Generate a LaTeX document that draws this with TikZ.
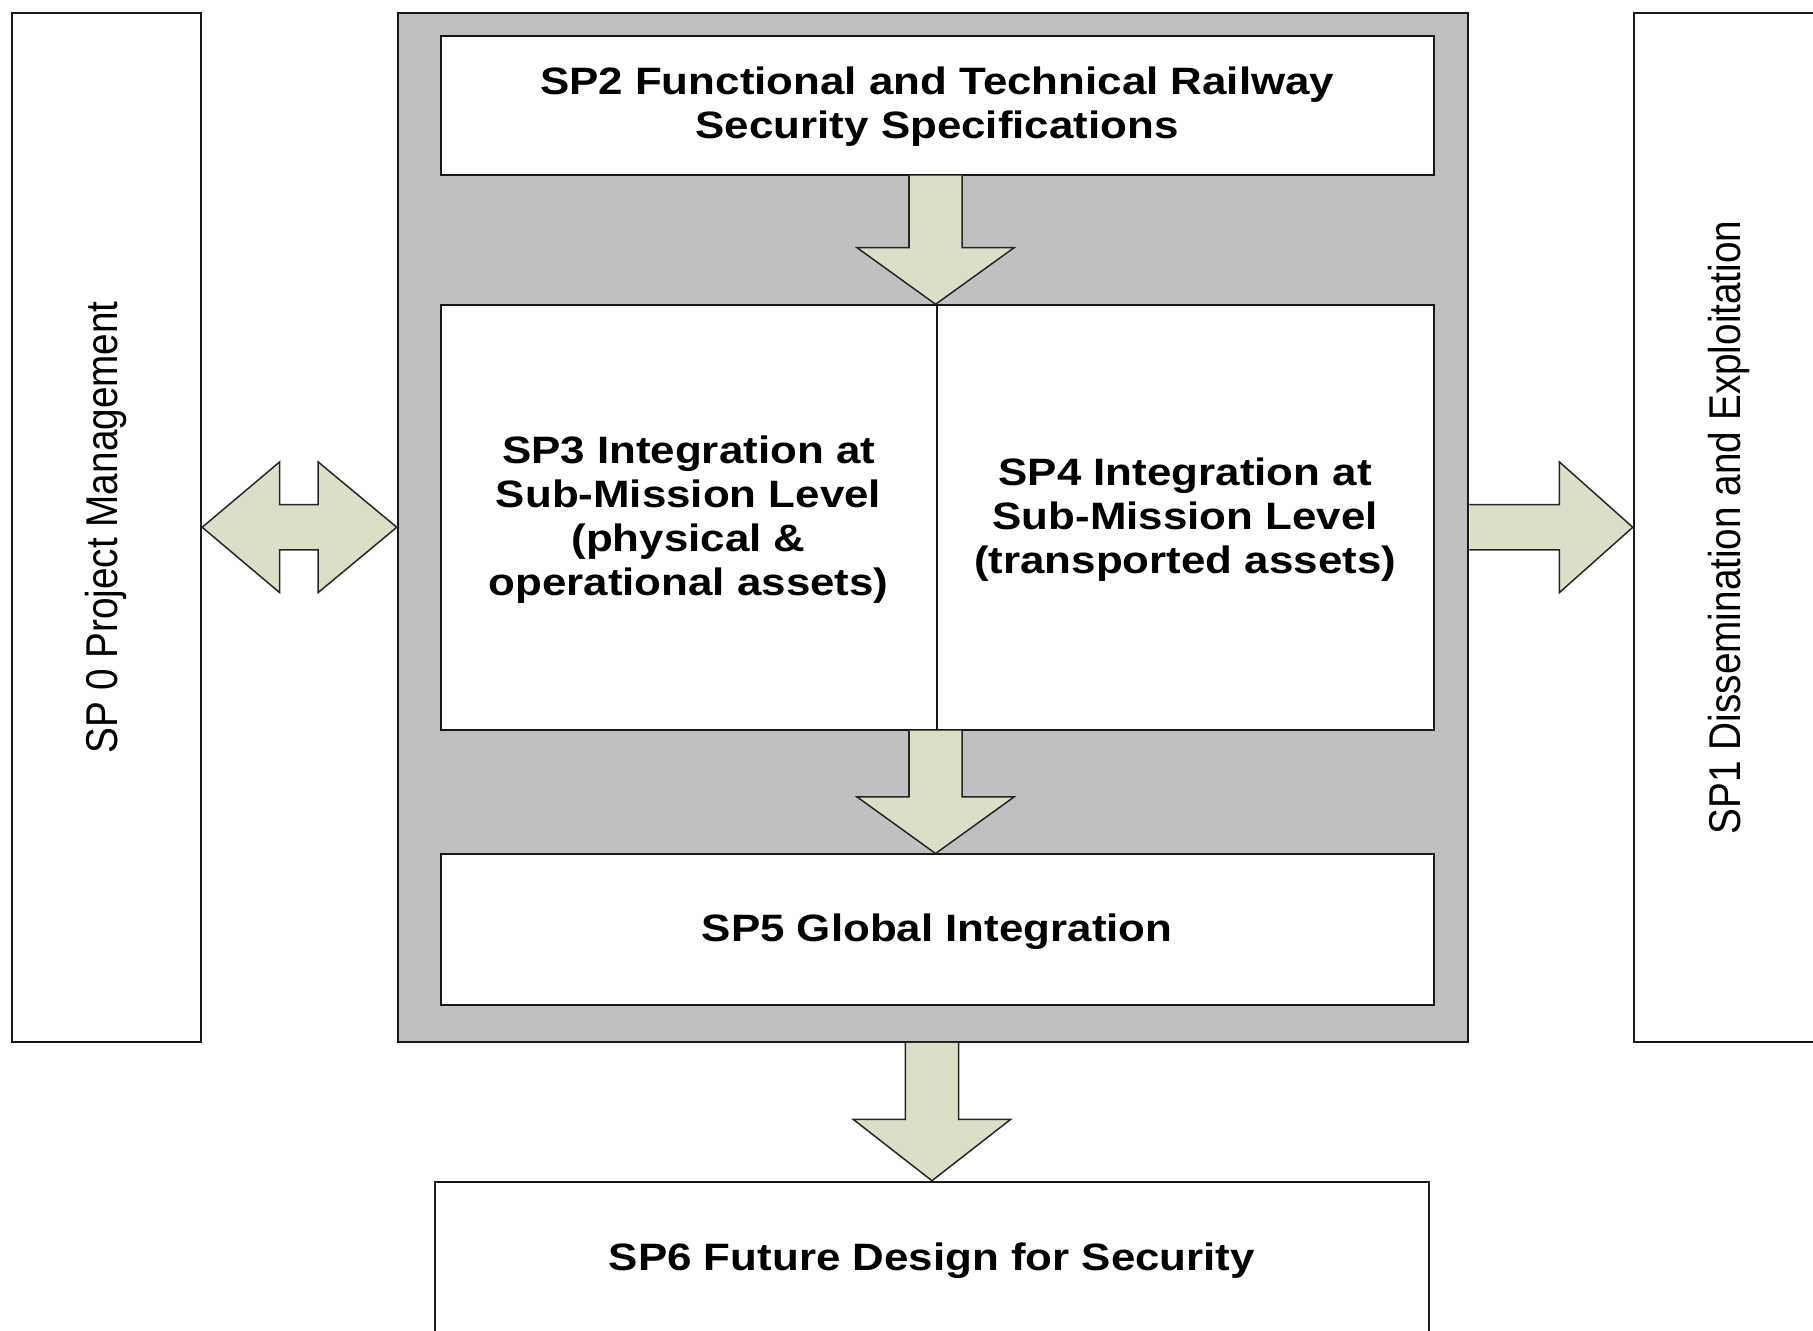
\documentclass[tikz,border=0pt]{standalone}
\usepackage{fontspec}
\setmainfont{Liberation Sans}
\usetikzlibrary{calc}
\definecolor{framegray}{HTML}{C0C0C0}
\definecolor{arrowfill}{HTML}{DADFC8}
\definecolor{arrowline}{HTML}{262626}
\newcommand\hlbl[1]{\raisebox{-2.5pt}[\height][\depth]{\scalebox{1.15}[1]{\fontsize{33}{38}\selectfont\bfseries\begin{tabular}{@{}c@{}}#1\end{tabular}}}}
\newcommand\vlbl[1]{\rotatebox{90}{\scalebox{1}[1.15]{\fontsize{33.5}{38}\selectfont #1}}}
% vertical block arrow: #1 shaft-top coordinate, #2 tip coordinate, #3 head length
\newcommand\downblock[3]{%
  \fill[arrowfill] ($(#1)+(-23,0)$) -- ($(#2)+(-23,-#3)$) -- ($(#2)+(-68,-#3)$) -- (#2)
     -- ($(#2)+(68,-#3)$) -- ($(#2)+(23,-#3)$) -- ($(#1)+(23,0)$) -- cycle;
  \draw[blockline] ($(#1)+(-23,0)$) -- ($(#2)+(-23,-#3)$) -- ($(#2)+(-68,-#3)$) -- (#2)
     -- ($(#2)+(68,-#3)$) -- ($(#2)+(23,-#3)$) -- ($(#1)+(23,0)$);}
\begin{document}
\begin{tikzpicture}[x=1pt,y=-1pt,
  box/.style={draw=black!90, line width=1.7pt, fill=white, inner sep=0pt},
  framebox/.style={draw=black!90, line width=1.7pt, fill=framegray, inner sep=0pt},
  blockline/.style={draw=arrowline, line width=1.3pt, line join=miter}]
\useasboundingbox (0,0) rectangle (1568,1151);
\clip (0,0) rectangle (1568,1151);

% outer boxes
\node[framebox, minimum width=926pt, minimum height=890pt] (frame) at (807,456) {};
\node[box, minimum width=164pt, minimum height=890pt] (sp0) at (92,456) {\vlbl{SP 0 Project Management}};
\node[box, minimum width=164pt, minimum height=890pt] (sp1) at (1495,456) {\vlbl{SP1 Dissemination and Exploitation}};

% inner boxes
\node[box, minimum width=859pt, minimum height=120pt] (sp2) at (810.5,91)
  {\hlbl{SP2 Functional and Technical Railway\\Security Specifications}};
\node[box, minimum width=429pt, minimum height=367pt] (sp3) at (595.5,447.5)
  {\hlbl{SP3 Integration at\\Sub-Mission Level\\(physical \&\\operational assets)}};
\node[box, minimum width=430pt, minimum height=367pt] (sp4) at (1025,447.5)
  {\hlbl{SP4 Integration at\\Sub-Mission Level\\(transported assets)}};
\node[box, minimum width=859pt, minimum height=130pt] (sp5) at (810.5,804)
  {\hlbl{SP5 Global Integration}};
\node[box, minimum width=860pt, minimum height=133pt] (sp6) at (806,1088.5)
  {\hlbl{SP6 Future Design for Security}};

% vertical block arrows
\coordinate (a1t) at (sp4.north west);
\coordinate (a1s) at (sp2.south -| a1t);
\downblock{a1s}{a1t}{49}
\coordinate (a2t) at (sp5.north -| sp4.south west);
\coordinate (a2s) at (sp4.south west);
\downblock{a2s}{a2t}{49}
\coordinate (a3t) at (sp6.north);
\coordinate (a3s) at (frame.south -| a3t);
\downblock{a3s}{a3t}{53}

% double arrow SP0 <-> frame
\coordinate (dL) at (sp0.east);
\coordinate (dR) at (frame.west);
\path[fill=arrowfill, blockline] (dL) -- ($(dL)+(67,-56.5)$) -- ($(dL)+(67,-19.5)$)
  -- ($(dR)+(-68,-19.5)$) -- ($(dR)+(-68,-56.5)$) -- (dR)
  -- ($(dR)+(-68,56.5)$) -- ($(dR)+(-68,19.5)$) -- ($(dL)+(67,19.5)$)
  -- ($(dL)+(67,56.5)$) -- cycle;

% single arrow frame -> SP1
\coordinate (rL) at (frame.east);
\coordinate (rR) at (sp1.west);
\fill[arrowfill] (rL) ++(0,-19.5) -- ($(rR)+(-63.5,-19.5)$) -- ($(rR)+(-63.5,-56.5)$) -- (rR)
  -- ($(rR)+(-63.5,56.5)$) -- ($(rR)+(-63.5,19.5)$) -- ($(rL)+(0,19.5)$) -- cycle;
\draw[blockline] ($(rL)+(0,-19.5)$) -- ($(rR)+(-63.5,-19.5)$) -- ($(rR)+(-63.5,-56.5)$) -- (rR)
  -- ($(rR)+(-63.5,56.5)$) -- ($(rR)+(-63.5,19.5)$) -- ($(rL)+(0,19.5)$);
\end{tikzpicture}
\end{document}
